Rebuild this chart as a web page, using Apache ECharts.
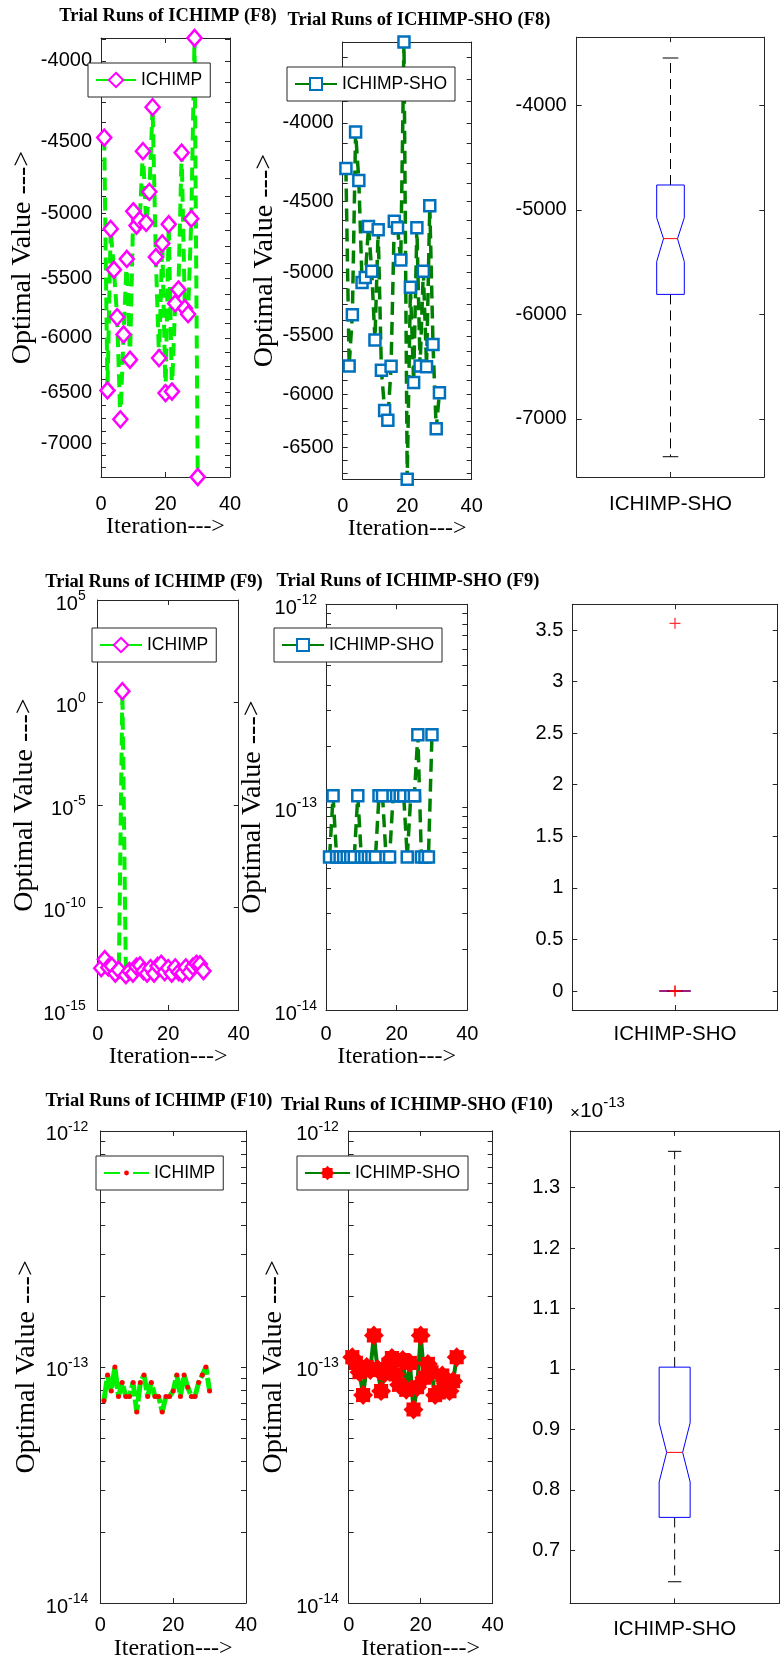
<!DOCTYPE html>
<html>
<head>
<meta charset="utf-8">
<script src="https://cdn.jsdelivr.net/npm/echarts@6/dist/echarts.min.js"></script>
<style>
  html, body { margin: 0; padding: 0; background: #fff; }
  #chart { width: 781px; height: 1662px; }
</style>
</head>
<body>
<div id="chart"></div>
<script>
// ---- data ----
const RUNS = [1, 2, 3, 4, 5, 6, 7, 8, 9, 10, 11, 12, 13, 14, 15, 16, 17, 18, 19, 20, 21, 22, 23, 24, 25, 26, 27, 28, 29, 30];

const F8_ICHIMP = [-4475, -6480, -5115, -5430, -5820, -6760, -5970, -5345, -6195, -4985, -5090, -5050, -4565, -5070, -4845,
                   -4280, -5330, -6180, -5225, -6505, -5080, -6490, -5705, -5590, -4575, -5745, -5795, -5040, -3868, -7355];
const F8_SHO = [-4283, -5753, -5330, -4056, -4360, -5078, -5040, -4670, -4993, -5534, -4693, -5789, -6150, -6240, -5755,
                -4634, -4680, -4910, -3545, -6815, -5114, -5896, -4680, -5753, -4993, -5760, -4528, -5571, -6320, -5987];

const F9_ICHIMP = [1.1e-13, 3.0e-13, 1.2e-13, 1.4e-13, 6e-14, 9e-14, 3.57, 5e-14, 8e-14, 6e-14, 1.3e-13, 1.5e-13, 8e-14, 6e-14, 1.1e-13,
                   6e-14, 1.4e-13, 1.8e-13, 7e-14, 1.1e-13, 6e-14, 1.2e-13, 7e-14, 6e-14, 1.2e-13, 7e-14, 1.3e-13, 1.8e-13, 1.7e-13, 8e-14];
const F9_SHO = [5.68e-14, 1.137e-13, 5.68e-14, 5.68e-14, 5.68e-14, 5.68e-14, 5.68e-14, 5.68e-14, 1.137e-13, 5.68e-14,
                5.68e-14, 5.68e-14, 5.68e-14, 5.68e-14, 1.137e-13, 1.137e-13, 5.68e-14, 5.68e-14, 1.137e-13, 1.137e-13,
                1.137e-13, 1.137e-13, 5.68e-14, 1.137e-13, 1.137e-13, 2.274e-13, 5.68e-14, 5.68e-14, 5.68e-14, 2.274e-13];

const F10_ICHIMP = [7.2e-14, 9.25e-14, 7.9e-14, 1.0e-13, 7.5e-14, 8.6e-14, 7.5e-14, 7.5e-14, 8.6e-14, 6.45e-14,
                    8.6e-14, 9.25e-14, 7.5e-14, 8.6e-14, 7.5e-14, 7.5e-14, 6.45e-14, 7.5e-14, 7.5e-14, 7.9e-14,
                    9.25e-14, 7.5e-14, 9.25e-14, 8.2e-14, 7.5e-14, 7.5e-14, 8.6e-14, 9.25e-14, 1.0e-13, 7.9e-14];
const F10_SHO = [1.10e-13, 1.04e-13, 0.95e-13, 0.76e-13, 1.00e-13, 0.97e-13, 1.36e-13, 0.98e-13, 0.79e-13, 0.94e-13,
                 1.02e-13, 1.09e-13, 0.93e-13, 0.84e-13, 1.07e-13, 0.80e-13, 1.04e-13, 0.66e-13, 0.82e-13, 1.36e-13,
                 0.90e-13, 1.03e-13, 0.95e-13, 0.76e-13, 0.78e-13, 0.92e-13, 0.85e-13, 0.79e-13, 0.87e-13, 1.10e-13];

// box stats: [min, q1, notch low, median, notch high, q3, max]
const BOX_CATEGORY = ['ICHIMP-SHO'];
const BOX_F8 = [-7361, -5809, -5496, -5276, -5076, -4763, -3549];
const BOX_F9 = [0, 0, 0, 0, 0, 0, 0];
const BOX_F9_OUTLIERS = [3.565, 0, 0];
const BOX_F10 = [0.648e-13, 0.7545e-13, 0.813e-13, 0.862e-13, 0.911e-13, 1.003e-13, 1.36e-13];

// tick labels
const F8_ICHIMP_TICKS = [-4000, -4500, -5000, -5500, -6000, -6500, -7000];
const F8_SHO_TICKS = [-4000, -4500, -5000, -5500, -6000, -6500];
const F8_BOX_TICKS = [-7000, -6000, -5000, -4000];
const F9_ICHIMP_TICKS = [1e-15, 1e-10, 1e-5, 1, 1e5];
const DECADE_TICKS = [1e-14, 1e-13, 1e-12];
const F9_BOX_TICKS = [0, 0.5, 1, 1.5, 2, 2.5, 3, 3.5];
const F10_BOX_TICKS = [0.7e-13, 0.8e-13, 0.9e-13, 1.0e-13, 1.1e-13, 1.2e-13, 1.3e-13];

// ---- styling ----
const INK = '#262626';
const SANS = 'Liberation Sans, Arial, sans-serif';
const SERIF = 'Liberation Serif, Times New Roman, serif';
const LIME = '#00f000';
const DARK_GREEN = '#008000';

// panel boxes [left, top, width, height] in px
const PANELS = [
    [101, 38, 129, 439],
    [342.7, 42, 129, 437.3],
    [576.7, 37.2, 187.6, 439.8],
    [97.7, 600, 141, 410],
    [326, 604.3, 141.3, 405.7],
    [572.3, 604.3, 205.4, 405.7],
    [100.3, 1130.9, 145.7, 472.5],
    [348.7, 1130.9, 144, 472.5],
    [570, 1130.9, 209.3, 472.5]
];

// "10" sits a little under the tick, exponent raised against its top
const SUP_RICH = {
    b: { fontFamily: SANS, fontSize: 20, color: '#000', verticalAlign: 'bottom', lineHeight: 28 },
    e: { fontFamily: SANS, fontSize: 14, color: '#000', verticalAlign: 'top', lineHeight: 28, padding: [3, 0, 0, 0] }
};
const powLabel = v => '{b|10}{e|' + Math.round(Math.log10(v)) + '}';

const AXIS_LINE = { show: true, onZero: false, lineStyle: { color: INK, width: 1 } };
const TICK_FONT = { fontFamily: SANS, fontSize: 20, color: '#000' };

function ticks(values) {
    const t = { show: true, inside: true, length: 5, lineStyle: { color: INK, width: 1 } };
    if (values) t.customValues = values;
    return t;
}

// minor ticks: fixed step inside a narrow range, or 1..9 per decade
function stepTicks(lo, hi, step) {
    const out = [];
    for (let t = Math.ceil(lo / step) * step; t <= hi; t += step) out.push(t);
    return out;
}
function decadeTicks() {
    const out = [];
    for (let e = -14; e <= -13; e++) {
        for (let k = 1; k <= 9; k++) out.push(Number((k * Math.pow(10, e)).toPrecision(3)));
    }
    out.push(1e-12);
    return out;
}

function iterationAxes(p, margin) {
    const base = { gridIndex: p, type: 'value', min: 0, max: 40, interval: 20,
        axisLine: AXIS_LINE, axisTick: ticks(), splitLine: { show: false } };
    return [
        Object.assign({}, base, { position: 'bottom', axisLabel: Object.assign({ margin }, TICK_FONT),
            name: 'Iteration--->', nameLocation: 'middle', nameGap: 34,
            nameTextStyle: { fontFamily: SERIF, fontSize: 24, color: '#000' } }),
        Object.assign({}, base, { position: 'top', axisLabel: { show: false } })
    ];
}

function boxXAxes(p, margin) {
    const base = { gridIndex: p, type: 'category', data: BOX_CATEGORY, axisLine: AXIS_LINE,
        axisTick: Object.assign(ticks(), { alignWithLabel: true }), splitLine: { show: false } };
    return [
        Object.assign({}, base, { position: 'bottom', axisLabel: Object.assign({ margin }, TICK_FONT, { fontSize: 20.5 }) }),
        Object.assign({}, base, { position: 'top', axisLabel: { show: false } })
    ];
}

function yAxes(p, scale, label, tickValues, extra) {
    const base = Object.assign({ gridIndex: p, axisLine: AXIS_LINE, axisTick: ticks(tickValues),
        splitLine: { show: false } }, scale);
    return [
        Object.assign({}, base, { position: 'left', axisLabel: Object.assign({ margin: 9 }, TICK_FONT, label) }, extra || {}),
        Object.assign({}, base, { position: 'right', axisLabel: { show: false } })
    ];
}

const yName = gap => ({ name: 'Optimal Value --->', nameLocation: 'middle', nameRotate: 90, nameGap: gap,
    nameTextStyle: { fontFamily: SERIF, fontSize: 28, color: '#000' } });

const negLog = vals => {
    const mags = vals.map(v => -v);
    return { type: 'log', logBase: 10, inverse: true, min: Math.min(...mags), max: Math.max(...mags) };
};
const negLabel = t => ({ customValues: t.map(v => -v), formatter: v => '-' + Math.round(v) });
const logDecade = { type: 'log', logBase: 10, min: 1e-14, max: 1e-12 };
const decadeLabel = { customValues: DECADE_TICKS, formatter: powLabel, rich: SUP_RICH };

const f8a = negLog(F8_ICHIMP), f8b = negLog(F8_SHO);

const xAxes = [].concat(
    iterationAxes(0, 17), iterationAxes(1, 17), boxXAxes(2, 17),
    iterationAxes(3, 14), iterationAxes(4, 14), boxXAxes(5, 14),
    iterationAxes(6, 12), iterationAxes(7, 12), boxXAxes(8, 15)
);

const yAxesAll = [].concat(
    yAxes(0, f8a, negLabel(F8_ICHIMP_TICKS), stepTicks(f8a.min, f8a.max, 125), yName(64)),
    yAxes(1, f8b, negLabel(F8_SHO_TICKS), stepTicks(f8b.min, f8b.max, 125), yName(63)),
    yAxes(2, { type: 'value', min: -7555, max: -3350 },
        { customValues: F8_BOX_TICKS, formatter: v => String(Math.round(v)), margin: 10 }, F8_BOX_TICKS),
    yAxes(3, { type: 'log', logBase: 10, min: 1e-15, max: 1e5 },
        { customValues: F9_ICHIMP_TICKS, formatter: powLabel, rich: SUP_RICH, margin: 12 }, F9_ICHIMP_TICKS, yName(59)),
    yAxes(4, logDecade, decadeLabel, decadeTicks(), yName(59)),
    yAxes(5, { type: 'value', min: -0.184, max: 3.749 }, { customValues: F9_BOX_TICKS }, F9_BOX_TICKS),
    yAxes(6, logDecade, Object.assign({ margin: 12 }, decadeLabel), decadeTicks(), yName(60)),
    yAxes(7, logDecade, Object.assign({ margin: 10 }, decadeLabel), decadeTicks(), yName(61)),
    yAxes(8, { type: 'value', min: 0.6122e-13, max: 1.3938e-13 },
        { customValues: F10_BOX_TICKS, formatter: v => String(+(v * 1e13).toFixed(1)), margin: 10 }, F10_BOX_TICKS,
        { name: '{m|\u00d7}{n|10}{e|-13}', nameLocation: 'end', nameGap: 9,
          nameTextStyle: { align: 'left', fontSize: 21, fontFamily: SANS, color: '#000', rich: {
              m: { fontFamily: SANS, fontSize: 17, color: '#000', verticalAlign: 'bottom', lineHeight: 27 },
              n: { fontFamily: SANS, fontSize: 21, color: '#000', verticalAlign: 'bottom', lineHeight: 27 },
              e: { fontFamily: SANS, fontSize: 15, color: '#000', verticalAlign: 'top', lineHeight: 27 } } } })
);

// MATLAB '*' marker drawn with a thick pen -> red flower blob
function starPath() {
    const pts = [];
    for (let k = 0; k < 16; k++) {
        const a = Math.PI * k / 8 - Math.PI / 2, r = k % 2 ? 7.6 : 10;
        pts.push((10 + r * Math.cos(a)).toFixed(2) + ',' + (10 + r * Math.sin(a)).toFixed(2));
    }
    return 'path://M' + pts.join('L') + 'Z';
}
const PLUS = 'path://M5,0L5,10M0,5L10,5';

function trialLine(p, name, vals, look) {
    return Object.assign({
        type: 'line', name, xAxisIndex: 2 * p, yAxisIndex: 2 * p, clip: false, silent: true,
        data: RUNS.map((r, i) => [r, vals[i]])
    }, look);
}

const ICHIMP_LOOK = {
    symbol: 'diamond', symbolSize: [14, 16],
    itemStyle: { color: '#fff', borderColor: '#ff00ff', borderWidth: 2.5 },
    lineStyle: { color: LIME, width: 4, type: [13, 7] }
};
const SHO_LOOK = {
    symbol: 'rect', symbolSize: 11,
    itemStyle: { color: '#fff', borderColor: '#0072bd', borderWidth: 2.5 },
    lineStyle: { color: DARK_GREEN, width: 3.5, type: [13, 7] }
};

// notched box drawn through the axis scale
function notchBox(p, stats, halfW, notchW, capW) {
    return {
        type: 'custom', xAxisIndex: 2 * p, yAxisIndex: 2 * p, silent: true,
        encode: { x: 0, y: [1, 2, 3, 4, 5, 6, 7] },
        data: [[0].concat(stats)],
        renderItem: (params, api) => {
            const cx = api.coord([0, api.value(4)])[0];
            const Y = k => api.coord([0, api.value(k)])[1];
            const yMin = Y(1), yQ1 = Y(2), yNlo = Y(3), yMed = Y(4), yNhi = Y(5), yQ3 = Y(6), yMax = Y(7);
            const l = cx - halfW, r = cx + halfW, ln = cx - notchW, rn = cx + notchW;
            const dash = { stroke: '#000', lineWidth: 1, lineDash: [10, 6], fill: null };
            const solid = { stroke: '#000', lineWidth: 1, fill: null };
            return { type: 'group', children: [
                { type: 'line', shape: { x1: cx, y1: yQ3, x2: cx, y2: yMax }, style: dash },
                { type: 'line', shape: { x1: cx, y1: yQ1, x2: cx, y2: yMin }, style: dash },
                { type: 'line', shape: { x1: cx - capW, y1: yMax, x2: cx + capW, y2: yMax }, style: solid },
                { type: 'line', shape: { x1: cx - capW, y1: yMin, x2: cx + capW, y2: yMin }, style: solid },
                { type: 'polygon', shape: { points: [[l, yQ3], [r, yQ3], [r, yNhi], [rn, yMed], [r, yNlo], [r, yQ1],
                    [l, yQ1], [l, yNlo], [ln, yMed], [l, yNhi]] },
                  style: { fill: null, stroke: '#0000ff', lineWidth: 1 } },
                { type: 'line', shape: { x1: ln, y1: yMed, x2: rn, y2: yMed }, style: { stroke: '#ff0000', lineWidth: 1 } }
            ] };
        }
    };
}

const series = [
    trialLine(0, 'ICHIMP (F8)', F8_ICHIMP.map(v => -v), ICHIMP_LOOK),
    trialLine(1, 'ICHIMP-SHO (F8)', F8_SHO.map(v => -v), SHO_LOOK),
    notchBox(2, BOX_F8, 13.8, 7, 7.8),
    trialLine(3, 'ICHIMP (F9)', F9_ICHIMP, ICHIMP_LOOK),
    trialLine(4, 'ICHIMP-SHO (F9)', F9_SHO, SHO_LOOK),
    notchBox(5, BOX_F9, 15.7, 15.7, 8),
    {
        type: 'scatter', xAxisIndex: 10, yAxisIndex: 10, silent: true, clip: false,
        data: BOX_F9_OUTLIERS.map(v => [0, v]),
        symbol: PLUS, symbolSize: 11,
        itemStyle: { color: 'transparent', borderColor: '#ff0000', borderWidth: 1.3 }
    },
    trialLine(6, 'ICHIMP (F10)', F10_ICHIMP, {
        symbol: 'circle', symbolSize: 5,
        itemStyle: { color: '#ff0000', borderWidth: 0 },
        lineStyle: { color: LIME, width: 5, type: [20, 3] }
    }),
    trialLine(7, 'ICHIMP-SHO (F10)', F10_SHO, {
        symbol: starPath(), symbolSize: 20,
        itemStyle: { color: '#ff0000', borderWidth: 0 },
        lineStyle: { color: DARK_GREEN, width: 4 }
    }),
    notchBox(8, BOX_F10, 15.5, 8, 6.7)
];

function panelLegend(name, left, top, itemWidth, itemHeight, dash) {
    return {
        left, top, data: [name], orient: 'horizontal', selectedMode: false,
        formatter: n => n.replace(/ \(F\d+\)$/, ''),
        padding: [8, 8, 8, 7], itemWidth, itemHeight,
        lineStyle: { type: dash },
        borderColor: INK, borderWidth: 1, borderRadius: 0, backgroundColor: '#fff',
        textStyle: { fontFamily: SANS, fontSize: 17.5, color: '#000' }
    };
}

const TITLE_STYLE = { fontFamily: SERIF, fontWeight: 'bold', fontSize: 18.5, color: '#000' };
const titles = [
    ['Trial Runs of ICHIMP (F8)', 168, 17],
    ['Trial Runs of ICHIMP-SHO (F8)', 419, 21],
    ['Trial Runs of ICHIMP (F9)', 154, 583],
    ['Trial Runs of ICHIMP-SHO (F9)', 408, 582],
    ['Trial Runs of ICHIMP (F10)', 159, 1102],
    ['Trial Runs of ICHIMP-SHO (F10)', 417, 1106]
].map(t => ({ text: t[0], left: t[1], top: t[2] - 10, textAlign: 'center', padding: 0, textStyle: TITLE_STYLE }));

const chart = echarts.init(document.getElementById('chart'));
chart.setOption({
    backgroundColor: '#fff',
    animation: false,
    textStyle: { fontFamily: SANS },
    title: titles,
    grid: PANELS.map(r => ({ left: r[0], top: r[1], width: r[2], height: r[3], show: false })),
    xAxis: xAxes,
    yAxis: yAxesAll,
    legend: [
        panelLegend('ICHIMP (F8)', 88, 63, 40, 18, 'solid'),
        panelLegend('ICHIMP-SHO (F8)', 287, 67, 42, 15, 'solid'),
        panelLegend('ICHIMP (F9)', 92, 628, 42, 18, 'solid'),
        panelLegend('ICHIMP-SHO (F9)', 274, 628, 42, 15, 'solid'),
        panelLegend('ICHIMP (F10)', 96, 1156, 45, 6, [16, 13]),
        panelLegend('ICHIMP-SHO (F10)', 297, 1156, 45, 18, 'solid')
    ],
    series
});
</script>
</body>
</html>
